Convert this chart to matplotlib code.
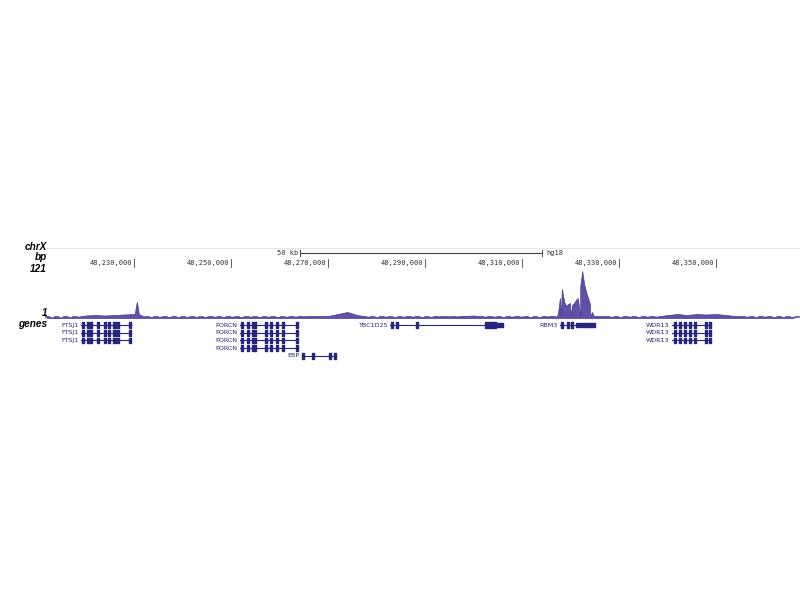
import numpy as np
import matplotlib
matplotlib.use("Agg")
import matplotlib.pyplot as plt

# genome browser view, chrX (hg18), positions in kb
view_start, view_end = 48211.65, 48367.3

tick_kb = [48230, 48250, 48270, 48290, 48310, 48330, 48350]
tick_labels = ["48,230,000", "48,250,000", "48,270,000", "48,290,000",
               "48,310,000", "48,330,000", "48,350,000"]
scale_start, scale_len = 48264.2, 50.0

# background coverage, one value every 2 kb
bg_kb = np.arange(48212, 48367, 2)
bg_val = [2, 1, 2, 2, 5, 6, 5, 6, 7, 8, 3, 2, 3, 2, 2, 3, 2, 3, 2, 3,
          2, 3, 2, 3, 2, 3, 3, 4, 4, 4, 8, 12, 6, 3, 2, 3, 2, 3, 3, 2,
          3, 4, 3, 4, 5, 3, 3, 2, 3, 3, 2, 2, 4, 2, 2, 2, 2, 4, 3, 2,
          3, 2, 3, 3, 6, 8, 6, 8, 7, 8, 6, 4, 3, 2, 3, 2, 2, 2]

# FTSJ1 promoter peak
p1_kb = [48230.2, 48230.4, 48230.6, 48230.8, 48231.0]
p1_val = [10, 24, 32, 20, 8]

# RBM3 peak cluster
p2_kb = [48317.0, 48317.4, 48317.8, 48318.2, 48318.7, 48319.1, 48319.5,
         48319.9, 48320.3, 48320.7, 48321.1, 48321.5, 48322.0, 48322.4,
         48322.8, 48323.2, 48323.6, 48324.0, 48324.4, 48324.8]
p2_val = [2, 8, 40, 58, 32, 24, 28, 30, 26, 30, 36, 40, 64, 94,
          68, 52, 40, 28, 12, 4]

# genes: name, row, start, end
genes = [
    ("FTSJ1", 0, 48219.1, 48229.4),
    ("FTSJ1", 1, 48219.1, 48229.4),
    ("FTSJ1", 2, 48219.1, 48229.4),
    ("PORCN", 0, 48251.9, 48263.8),
    ("PORCN", 1, 48251.9, 48263.8),
    ("PORCN", 2, 48251.9, 48263.8),
    ("PORCN", 3, 48251.9, 48263.8),
    ("EBP", 4, 48264.6, 48271.6),
    ("TBC1D25", 0, 48282.8, 48306.1),
    ("RBM3", 0, 48317.8, 48325.1),
    ("WDR13", 0, 48340.9, 48349.0),
    ("WDR13", 1, 48340.9, 48349.0),
    ("WDR13", 2, 48340.9, 48349.0),
]
exons = {
    "FTSJ1": [(48219.3, 48219.7), (48220.3, 48221.3), (48222.4, 48222.8),
              (48223.8, 48224.2), (48224.6, 48225.1), (48225.7, 48226.3),
              (48226.5, 48226.9), (48229.0, 48229.4)],
    "PORCN": [(48252.1, 48252.5), (48253.3, 48253.7), (48254.3, 48255.2),
              (48257.0, 48257.4), (48258.0, 48258.5), (48259.3, 48259.7),
              (48260.5, 48260.9), (48263.4, 48263.8)],
    "EBP": [(48264.6, 48265.1), (48266.7, 48267.1), (48270.2, 48270.6),
            (48271.2, 48271.6)],
    "TBC1D25": [(48283.0, 48283.4), (48284.0, 48284.4), (48288.1, 48288.6),
                (48302.4, 48304.6)],
    "RBM3": [(48318.0, 48318.5), (48319.3, 48319.7), (48320.1, 48320.5)],
    "WDR13": [(48341.3, 48341.8), (48342.4, 48342.8), (48343.4, 48343.8),
              (48344.4, 48344.8), (48345.4, 48345.9), (48347.7, 48348.1),
              (48348.6, 48349.0)],
}
utr = {
    "TBC1D25": [(48304.6, 48306.1)],
    "RBM3": [(48321.1, 48325.1)],
}

navy = "#26267e"
fill_c = "#6250a8"
W, H = 800, 600

fig = plt.figure(figsize=(8, 6), dpi=100)

def box(x0, y0, x1, y1):
    # pixel box -> figure fraction
    return [x0 / W, 1 - y1 / H, (x1 - x0) / W, (y1 - y0) / H]

mono = dict(family="DejaVu Sans Mono", fontsize=5.0, color="#333333")

# ruler
ax_r = fig.add_axes(box(45, 240, 800, 270))
ax_r.set_xlim(view_start, view_end)
ax_r.set_ylim(30, 0)
ax_r.axis("off")
ax_r.axhline(8, color="#e6e6e6", lw=0.8)
for kb, lab in zip(tick_kb, tick_labels):
    ax_r.plot([kb, kb], [19, 27], color="#444444", lw=0.6)
    ax_r.text(kb - 0.4, 23, lab, ha="right", va="center", **mono)
s0, s1 = scale_start, scale_start + scale_len
ax_r.plot([s0, s1], [13, 13], color="#444444", lw=0.8)
ax_r.plot([s0, s0], [10, 16], color="#444444", lw=0.7)
ax_r.plot([s1, s1], [10, 16], color="#444444", lw=0.7)
ax_r.text(s0 - 0.4, 13, "50 kb", ha="right", va="center", **mono)
ax_r.text(s1 + 0.8, 13, "hg18", ha="left", va="center", **mono)

# signal track
kb = np.concatenate([bg_kb, p1_kb, p2_kb])
val = np.concatenate([bg_val, p1_val, p2_val])
order = np.argsort(kb)
kb, val = kb[order], val[order]
ax_s = fig.add_axes(box(45, 268, 800, 318))
ax_s.set_xlim(view_start, view_end)
ax_s.set_ylim(0, 100)
ax_s.axis("off")
ax_s.axhline(1.2, color=fill_c, lw=1.3, ls=(0, (3, 2)))
ax_s.fill_between(kb, 0, val, facecolor=fill_c, edgecolor="#4a3a92", lw=0.5)

# gene track
ax_g = fig.add_axes(box(45, 321, 800, 361))
ax_g.set_xlim(view_start, view_end)
ax_g.set_ylim(4.65, -0.52)
ax_g.axis("off")
for name, row, g0, g1 in genes:
    ax_g.plot([g0, g1], [row, row], color=navy, lw=0.8)
    ex = [(a, b - a) for a, b in exons[name]]
    ax_g.broken_barh(ex, (row - 0.38, 0.76), color=navy)
    if name in utr:
        u = [(a, b - a) for a, b in utr[name]]
        ax_g.broken_barh(u, (row - 0.25, 0.5), color=navy)
    ax_g.text(g0 - 0.5, row, name, ha="right", va="center", fontsize=4.6,
              color=navy)

# left track labels
lab_font = dict(family="Liberation Sans", fontsize=7.2, fontweight="bold",
                fontstyle="italic", ha="right", va="center")
for txt, y in [("chrX", 246.5), ("bp", 257.5), ("121", 268.5), ("1", 313),
               ("genes", 324)]:
    fig.text(47 / W, 1 - y / H, txt, **lab_font)

fig.savefig("out.png", dpi=100, facecolor="white")
